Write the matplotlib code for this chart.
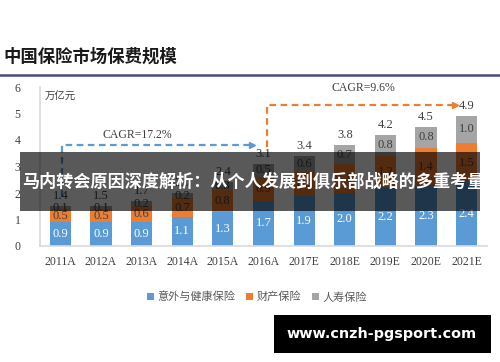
import matplotlib
matplotlib.use("Agg")
import matplotlib.pyplot as plt
import numpy as np
from matplotlib.patches import Rectangle
from matplotlib.lines import Line2D

plt.rcParams["font.family"] = ["Liberation Serif", "Noto Sans CJK SC", "DejaVu Sans"]

years = ["2011A", "2012A", "2013A", "2014A", "2015A", "2016A",
         "2017E", "2018E", "2019E", "2020E", "2021E"]
health = [0.9, 0.9, 0.9, 1.1, 1.3, 1.7, 1.9, 2.0, 2.2, 2.3, 2.4]
prop = [0.5, 0.5, 0.6, 0.7, 0.8, 0.9, 0.9, 1.1, 1.2, 1.4, 1.5]
life = [0.1, 0.1, 0.2, 0.2, 0.3, 0.5, 0.6, 0.7, 0.8, 0.8, 1.0]
totals = [1.4, 1.5, 1.7, 2.0, 2.4, 3.1, 3.4, 3.8, 4.2, 4.5, 4.9]
series_names = ["意外与健康保险", "财产保险", "人寿保险"]

BLUE = "#5b9bd5"
ORANGE = "#ed7d31"
GRAY = "#a5a5a5"
TXT = "#404040"

W, H = 500, 362
fig = plt.figure(figsize=(W / 100, H / 100), dpi=100)


def fx(px):
    return px / W


def fy(py):
    return 1 - py / H


# title and rule
fig.text(fx(3), fy(57), "中国保险市场保费规模", family=["Noto Sans CJK SC"],
         fontsize=12.5, fontweight="bold", color="#1a1a1a", va="center", ha="left")
fig.add_artist(Line2D([0, 1], [fy(75), fy(75)], color="#4a4a78", lw=1.8))

ax = fig.add_axes([fx(40), fy(246), fx(487) - fx(40), fy(87) - fy(246)])
x = np.arange(len(years))
bw = 0.52
h = np.array(health)
p = np.array(prop)
l = np.array(life)
ax.bar(x, h, bw, color=BLUE, label=series_names[0])
ax.bar(x, p, bw, bottom=h, color=ORANGE, label=series_names[1])
ax.bar(x, l, bw, bottom=h + p, color=GRAY, label=series_names[2])

for i in range(len(years)):
    ax.text(x[i], h[i] / 2, f"{h[i]:.1f}", ha="center", va="center", color="white", fontsize=9)
    ax.text(x[i], h[i] + p[i] / 2, f"{p[i]:.1f}", ha="center", va="center", color=TXT, fontsize=9)
    ax.text(x[i], h[i] + p[i] + l[i] / 2, f"{l[i]:.1f}", ha="center", va="center", color=TXT, fontsize=9)
    ax.annotate(f"{totals[i]:.1f}", (x[i], h[i] + p[i] + l[i]), xytext=(0, 3),
                textcoords="offset points", ha="center", va="bottom", color=TXT, fontsize=9)

# CAGR arrows
ax.plot([0.04, 0.04, 4.65], [1.85, 3.8, 3.8], ls=(0, (3, 2)), color=BLUE, lw=1.6)
ax.plot([4.72], [3.8], marker=">", color=BLUE, ms=5)
ax.text(1.9, 4.2, "CAGR=17.2%", ha="center", va="center", color=TXT, fontsize=8.5)
ax.plot([5.09, 5.09, 9.65], [3.74, 5.32, 5.32], ls=(0, (3, 2)), color=ORANGE, lw=1.6)
ax.plot([9.72], [5.32], marker=">", color=ORANGE, ms=5)
ax.text(7.45, 5.95, "CAGR=9.6%", ha="center", va="center", color=TXT, fontsize=8.5)

ax.text(0.0, 5.62, "万亿元", family=["Noto Sans CJK SC"], style="italic",
        fontsize=7.5, color="#404040", va="center", ha="center")

ax.set_xlim(-0.5, len(years) - 0.5)
ax.set_ylim(0, 6)
ax.set_xticks(x)
ax.set_xticklabels(years, fontsize=8.5, color=TXT)
ax.set_yticks(range(7))
ax.set_yticklabels([str(v) for v in range(7)], fontsize=8.5, color=TXT)
ax.tick_params(length=0)
ax.tick_params(axis="x", pad=7)
ax.tick_params(axis="y", pad=14)
for s in ["top", "right"]:
    ax.spines[s].set_visible(False)
for s in ["left", "bottom"]:
    ax.spines[s].set_color("#d9d9d9")
    ax.spines[s].set_linewidth(1.2)

leg = fig.legend(loc="center", bbox_to_anchor=(fx(257), fy(297)), ncol=3, frameon=False,
                 handlelength=0.6, handleheight=0.6, handletextpad=0.3, columnspacing=1.0,
                 prop={"family": ["Noto Sans CJK SC"], "size": 8})
for t in leg.get_texts():
    t.set_color("#595959")

# dark overlay banner
fig.add_artist(Rectangle((fx(20), fy(211)), fx(480) - fx(20), fy(152) - fy(211),
                         transform=fig.transFigure, facecolor="black", alpha=0.65, lw=0))
fig.text(fx(22), fy(182), "马内转会原因深度解析：从个人发展到俱乐部战略的多重考量",
         family=["Noto Sans CJK SC"], fontsize=12.3, fontweight="bold", color="white",
         va="center", ha="left")

# watermark box
fig.add_artist(Rectangle((fx(274), fy(353)), fx(491) - fx(274), fy(315) - fy(353),
                         transform=fig.transFigure, facecolor="black", lw=0))
fig.text(fx(382), fy(334), "www.cnzh-pgsport.com", family=["DejaVu Sans"],
         fontsize=10.4, fontweight="bold", color="white", va="center", ha="center")

fig.savefig("out.png", dpi=100)
